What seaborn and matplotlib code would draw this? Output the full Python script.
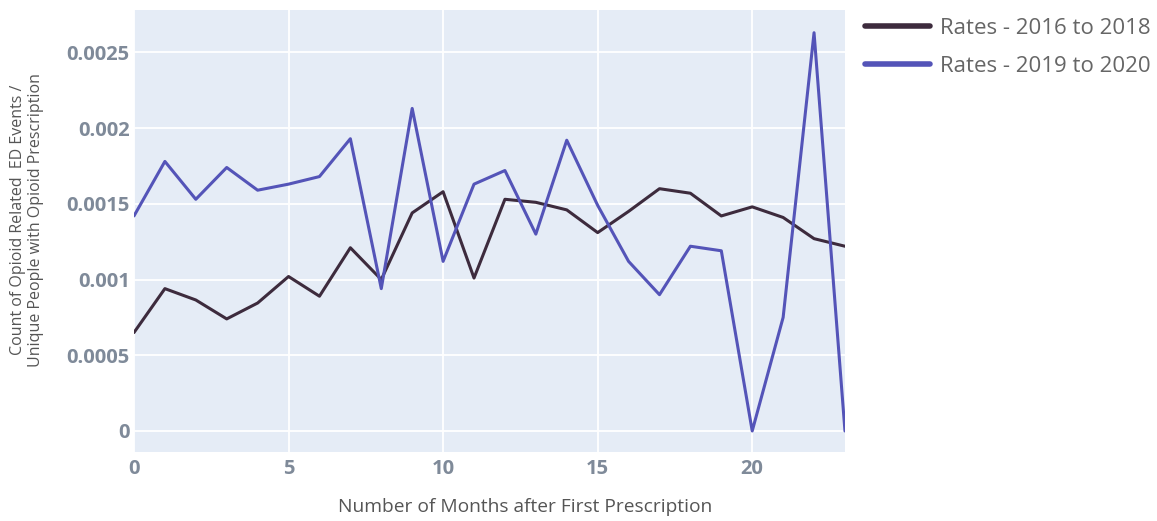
"""Opioid-related ED event rates by months after first prescription."""

import matplotlib

matplotlib.use("Agg")
import matplotlib.pyplot as plt
import pandas as pd
import seaborn as sns

# ---------- data ----------

months = list(range(24))
rates_2016_2018 = [
    0.00065, 0.00094, 0.000865, 0.00074, 0.000845, 0.00102, 0.00089, 0.00121,
    0.00100, 0.00144, 0.00158, 0.00101, 0.00153, 0.00151, 0.00146, 0.00131,
    0.00145, 0.00160, 0.00157, 0.00142, 0.00148, 0.00141, 0.00127, 0.00122,
]
rates_2019_2020 = [
    0.00142, 0.00178, 0.00153, 0.00174, 0.00159, 0.00163, 0.00168, 0.00193,
    0.00094, 0.00213, 0.00112, 0.00163, 0.00172, 0.00130, 0.00192, 0.00149,
    0.00112, 0.00090, 0.00122, 0.00119, 0.00000, 0.00075, 0.00263, 0.00000,
]
series_names = ["Rates - 2016 to 2018", "Rates - 2019 to 2020"]
y_ticks = [0, 0.0005, 0.001, 0.0015, 0.002, 0.0025]
y_tick_labels = ["0", "0.0005", "0.001", "0.0015", "0.002", "0.0025"]
x_ticks = [0, 5, 10, 15, 20]

df = pd.DataFrame(
    {
        "month": months * 2,
        "rate": rates_2016_2018 + rates_2019_2020,
        "series": [series_names[0]] * len(months) + [series_names[1]] * len(months),
    }
)

# ---------- style ----------

sns.set_style("darkgrid", {"axes.facecolor": "#e5ecf6", "grid.color": "white"})
plt.rcParams["font.family"] = ["Open Sans", "DejaVu Sans"]

palette = {series_names[0]: "#3d2b3d", series_names[1]: "#5454b8"}

fig = plt.figure(figsize=(11.57, 5.21), dpi=100)
ax = fig.add_axes([0.1158, 0.1324, 0.6145, 0.8484])

sns.lineplot(
    data=df, x="month", y="rate", hue="series", palette=palette,
    linewidth=2.2, ax=ax,
)

ax.set_xlim(0, 23)
ax.set_ylim(-0.000139, 0.00278)
ax.set_xticks(x_ticks)
ax.set_yticks(y_ticks)
ax.set_yticklabels(y_tick_labels)
ax.grid(True, color="white", linewidth=1.3)
for s in ax.spines.values():
    s.set_visible(False)

ax.tick_params(axis="both", length=0, labelsize=14.5, labelcolor="#7f8a99")
ax.tick_params(axis="x", pad=5)
ax.tick_params(axis="y", pad=3)
for lab in ax.get_xticklabels() + ax.get_yticklabels():
    lab.set_fontweight("bold")

ax.set_xlabel("Number of Months after First Prescription", fontsize=13.8, color="#555555")
ax.xaxis.set_label_coords(0.55, -0.104)
ax.set_ylabel(
    "Count of Opioid Related  ED Events /\nUnique People with Opioid Prescription",
    fontsize=11.5, color="#555555", linespacing=1.1,
)
ax.yaxis.set_label_coords(-0.127, 0.525)

leg = ax.legend(
    loc="upper left", bbox_to_anchor=(0.748, 0.965), bbox_transform=fig.transFigure,
    frameon=False, fontsize=16, handlelength=2.9, handletextpad=0.45,
    labelspacing=0.75, borderaxespad=0, borderpad=0,
)
for txt in leg.get_texts():
    txt.set_color("#666666")
for line in leg.get_lines():
    line.set_linewidth(4)

fig.savefig("out.png", dpi=100)
